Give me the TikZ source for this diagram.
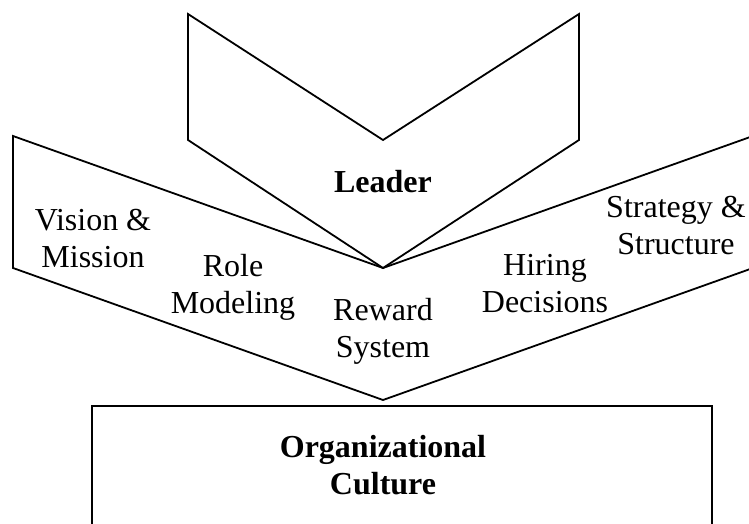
\documentclass[tikz,border=0pt]{standalone}
\usepackage{fontspec}
\setmainfont{Liberation Serif}
\begin{document}
\begin{tikzpicture}[x=0.5pt, y=-0.5pt,
        chevron/.style={draw, line width=0.9pt, line join=miter},
        lever/.style={align=center, inner sep=0pt, font=\fontsize{16}{18.5}\selectfont},
        boldlabel/.style={lever, font=\fontsize{16}{18.5}\selectfont\bfseries}]
        \useasboundingbox (0,0) rectangle (749,524);
        % shared points of the two chevrons
        \coordinate (hub) at (383,268);
        \coordinate (tip) at (383,400);
        % leader chevron and lever chevron
        \draw[chevron] (188,14) -- (383,140) -- (579,14) -- (579,140) -- (hub) -- (188,140) -- cycle;
        \draw[chevron] (13,136) -- (hub) -- (753,136) -- (753,268) -- (tip) -- (13,268) -- cycle;
        % culture box, open at the bottom
        \draw[line width=1.1pt] (92,540) -- (92,406) -- (712,406) -- (712,540);
        \node[boldlabel] (leader) at (383,182) {Leader};
        \foreach \name/\x/\y/\txt in {vision/93/238.5/{Vision \&\\Mission}, role/233/287/{Role\\Modeling},
            reward/383/331.5/{Reward\\System}, hiring/545/284/{Hiring\\Decisions}, strategy/676/225.5/{Strategy \&\\Structure}} {
            \node[lever] (\name) at (\x,\y) {\txt};
        }
        \node[boldlabel] (culture) at (383,465) {Organizational\\Culture};
    \end{tikzpicture}
\end{document}
